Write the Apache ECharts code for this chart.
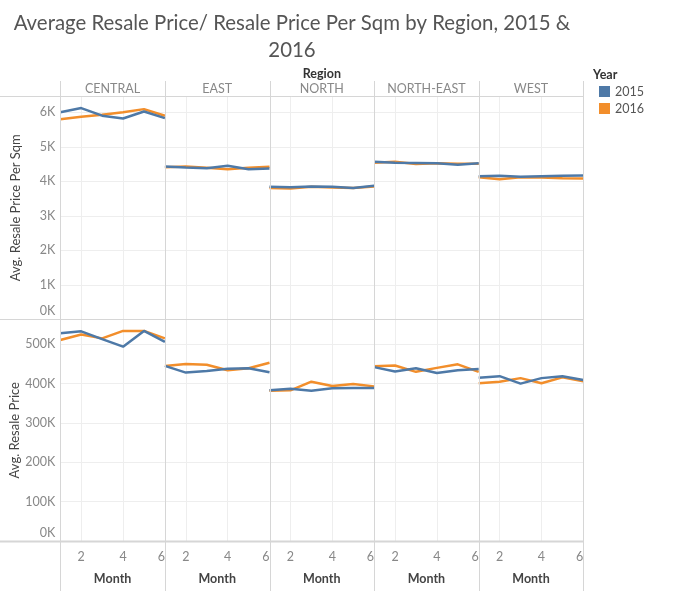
<!DOCTYPE html>
<html><head><meta charset="utf-8">
<script src="https://cdn.jsdelivr.net/npm/echarts@6/dist/echarts.min.js"></script>
<style>html,body{margin:0;padding:0;background:#fff}#c{width:700px;height:591px}</style>
</head><body><div id="c"></div>
<script>
var months = ['1','2','3','4','5','6'];
var regions = ['CENTRAL','EAST','NORTH','NORTH-EAST','WEST'];
var years = ['2015','2016'];
// Avg. Resale Price Per Sqm
var sqm2015 = {
  'CENTRAL':    [6000, 6120, 5900, 5820, 6020, 5830],
  'EAST':       [4430, 4400, 4380, 4450, 4350, 4370],
  'NORTH':      [3840, 3830, 3850, 3840, 3810, 3870],
  'NORTH-EAST': [4570, 4540, 4530, 4520, 4480, 4520],
  'WEST':       [4150, 4160, 4130, 4150, 4160, 4170]
};
var sqm2016 = {
  'CENTRAL':    [5800, 5870, 5930, 6000, 6090, 5900],
  'EAST':       [4410, 4430, 4390, 4350, 4390, 4420],
  'NORTH':      [3810, 3790, 3840, 3820, 3810, 3850],
  'NORTH-EAST': [4540, 4570, 4500, 4520, 4510, 4510],
  'WEST':       [4120, 4060, 4120, 4110, 4090, 4080]
};
// Avg. Resale Price
var price2015 = {
  'CENTRAL':    [528000, 533000, 513000, 494000, 534000, 506000],
  'EAST':       [445000, 428000, 432000, 438000, 439000, 429000],
  'NORTH':      [383000, 387000, 382000, 388000, 389000, 389000],
  'NORTH-EAST': [442000, 431000, 439000, 427000, 434000, 437000],
  'WEST':       [415000, 419000, 400000, 414000, 419000, 409000]
};
var price2016 = {
  'CENTRAL':    [511000, 525000, 515000, 534000, 534000, 515000],
  'EAST':       [445000, 450000, 448000, 434000, 439000, 453000],
  'NORTH':      [382000, 383000, 405000, 394000, 399000, 393000],
  'NORTH-EAST': [444000, 446000, 430000, 440000, 449000, 430000],
  'WEST':       [401000, 405000, 414000, 401000, 416000, 406000]
};
var sqmTicks = ['0K','1K','2K','3K','4K','5K','6K'];
var priceTicks = ['0K','100K','200K','300K','400K','500K'];

var FONT = 'Lato, "Open Sans", sans-serif';
var BLUE = '#4e79a7', ORANGE = '#f28e2b';
var panelLeft = 60.3, panelW = 104.6;
var rows = [
  {top: 96, h: 223.5, max: 6470, interval: 1000, title: 'Avg. Resale Price Per Sqm', d15: sqm2015, d16: sqm2016, ticks: sqmTicks},
  {top: 319.5, h: 221.5, max: 563000, interval: 100000, title: 'Avg. Resale Price', d15: price2015, d16: price2016, ticks: priceTicks}
];

var grids = [], xAxes = [], yAxes = [], series = [], graphics = [];
rows.forEach(function (row, r) {
  regions.forEach(function (reg, c) {
    var gi = grids.length;
    grids.push({left: panelLeft + c * panelW, top: row.top, width: panelW, height: row.h, containLabel: false});
    xAxes.push({
      type: 'category', gridIndex: gi, data: months, boundaryGap: false,
      axisLine: {show: false}, axisTick: {show: false},
      axisLabel: {show: r === 1, interval: function (i) { return i % 2 === 1; }, color: '#888', fontSize: 12.5, fontFamily: FONT, margin: 9, alignMaxLabel: 'right'},
      splitLine: {show: true, interval: function (i) { return i === 1 || i === 3; }, lineStyle: {color: '#eeeeee', width: 1}},
      name: r === 1 ? 'Month' : '', nameLocation: 'middle', nameGap: 31,
      nameTextStyle: {color: '#444', fontSize: 12.5, fontWeight: 'bold', fontFamily: FONT}
    });
    yAxes.push({
      type: 'value', gridIndex: gi, min: 0, max: row.max, interval: row.interval,
      axisLine: {show: false}, axisTick: {show: false},
      axisLabel: {
        show: c === 0, color: '#888', fontSize: 12.5, fontFamily: FONT, margin: 5, showMaxLabel: false,
        formatter: function (v) {
          if (v % row.interval !== 0) return '';
          var t = row.ticks[Math.round(v / row.interval)];
          return v === 0 ? '{z|' + t + '}' : t;
        },
        rich: {z: {color: '#888', fontSize: 12.5, fontFamily: FONT, padding: [0, 0, 17, 0]}}
      },
      splitLine: {show: true, lineStyle: {color: '#eeeeee', width: 1}},
      name: c === 0 ? row.title : '', nameLocation: 'middle', nameGap: 38, nameRotate: 90,
      nameTextStyle: {color: '#444', fontSize: 13, fontFamily: FONT}
    });
    series.push({
      name: '2016', type: 'line', xAxisIndex: gi, yAxisIndex: gi, data: row.d16[reg],
      symbol: 'none', lineStyle: {color: ORANGE, width: 2.5}, itemStyle: {color: ORANGE}, z: 2, silent: true
    });
    series.push({
      name: '2015', type: 'line', xAxisIndex: gi, yAxisIndex: gi, data: row.d15[reg],
      symbol: 'none', lineStyle: {color: BLUE, width: 2.5}, itemStyle: {color: BLUE}, z: 3, silent: true
    });
  });
});

// frame lines
var frameColor = '#d6d6d6';
for (var k = 0; k <= regions.length; k++) {
  var x = Math.round(panelLeft + k * panelW) + 0.5;
  graphics.push({type: 'line', shape: {x1: x, y1: 81, x2: x, y2: 591}, style: {stroke: frameColor, lineWidth: 1}, z: 10});
}
[[96.5, 1], [319.5, 1], [541.5, 2]].forEach(function (h) {
  graphics.push({type: 'line', shape: {x1: 0, y1: h[0], x2: 583.5, y2: h[0]}, style: {stroke: frameColor, lineWidth: h[1]}, z: 10});
});
// header
regions.forEach(function (reg, c) {
  graphics.push({type: 'text', x: panelLeft + c * panelW + panelW / 2, y: 89,
    style: {text: reg, fill: '#888', font: '12.5px ' + FONT, textAlign: 'center', textVerticalAlign: 'middle'}});
});
graphics.push({type: 'text', x: panelLeft + regions.length * panelW / 2, y: 74,
  style: {text: 'Region', fill: '#333', font: 'bold 12.5px ' + FONT, textAlign: 'center', textVerticalAlign: 'middle'}});
graphics.push({type: 'text', x: 593, y: 75,
  style: {text: 'Year', fill: '#333', font: 'bold 12.5px ' + FONT, textAlign: 'left', textVerticalAlign: 'middle'}});

var chart = echarts.init(document.getElementById('c'), null, {renderer: 'canvas'});
chart.setOption({
  animation: false,
  backgroundColor: '#fff',
  title: {
    text: 'Average Resale Price/ Resale Price Per Sqm by Region, 2015 &\n2016',
    left: 287, top: 5, textAlign: 'center',
    textStyle: {fontSize: 20.4, fontWeight: 'normal', color: '#555', fontFamily: FONT, lineHeight: 27}
  },
  legend: {
    data: years, orient: 'vertical', left: 594, top: 80, itemWidth: 11, itemHeight: 11, itemGap: 4,
    icon: 'rect', textStyle: {color: '#555', fontSize: 12.5, fontFamily: FONT}, selectedMode: false
  },
  grid: grids, xAxis: xAxes, yAxis: yAxes, series: series, graphic: graphics
});
</script></body></html>
